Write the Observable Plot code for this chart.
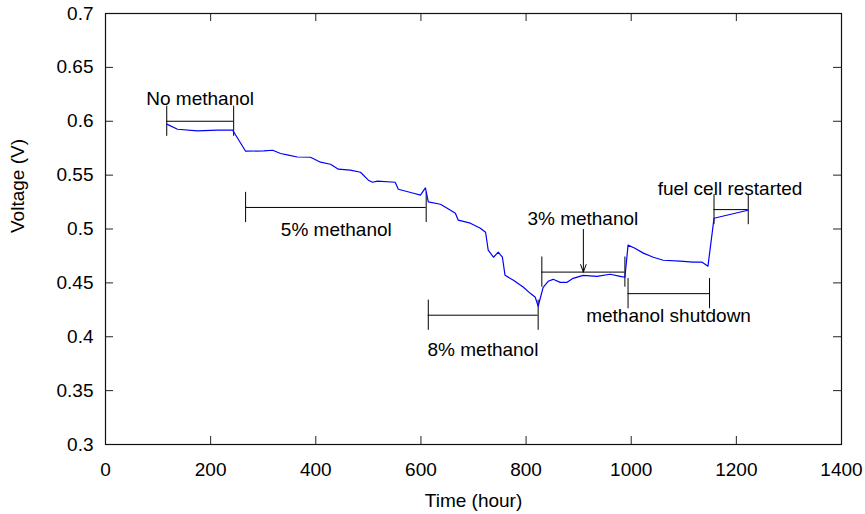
<!DOCTYPE html>
<html>
<head>
<meta charset="utf-8">
<script src="https://cdn.jsdelivr.net/npm/d3@7"></script>
<script src="https://cdn.jsdelivr.net/npm/@observablehq/plot@0.6"></script>
<style>
  html, body { margin: 0; padding: 0; background: #fff; }
  #chart { width: 865px; height: 514px; }
</style>
</head>
<body>
<div id="chart"></div>
<script>
// ---- data ----
const timeHours = [116.5,137,175,213,242,266.5,301,318,333,348,365,390,409,428,443,466,485,500,508,517,551,557,586,599,608.5,614,637,650,665.5,671,694,713,723,728,738,747,755,760,776,795,808,817.5,823,832.5,842,851.5,865,878,889.5,908.5,935,960,979,988,994,1007,1023,1042,1061,1093,1118,1135,1146,1157.5,1222];
const voltage = [0.5973,0.5926,0.591,0.5917,0.5917,0.5722,0.5725,0.5731,0.5701,0.5685,0.5668,0.5666,0.562,0.5601,0.5555,0.5546,0.5527,0.5453,0.5434,0.5444,0.5434,0.5369,0.5332,0.5314,0.5381,0.5252,0.523,0.5193,0.5147,0.5082,0.5054,0.5007,0.497,0.4803,0.4738,0.4785,0.4738,0.457,0.4524,0.4459,0.4403,0.4366,0.4283,0.4459,0.4515,0.4533,0.4505,0.4505,0.4542,0.457,0.4561,0.458,0.4561,0.4552,0.485,0.4822,0.4776,0.4738,0.471,0.4701,0.4692,0.4692,0.4655,0.51,0.5174];

const annoLabels   = ["No methanol", "5% methanol", "8% methanol", "3% methanol", "methanol shutdown", "fuel cell restarted"];
const bracketStart = [116.5, 266.5, 614, 830, 994, 1157.5];
const bracketEnd   = [243.8, 610, 823, 988, 1149, 1222.6];
const bracketV     = [0.6, 0.52, 0.42, 0.46, 0.44, 0.518];
const labelT       = [180, 439, 718, 908, 1071, 1188];
const labelV       = [0.6205, 0.4996, 0.3882, 0.5097, 0.419, 0.5376];

const arrowT = [909];
const arrowFromV = [0.4996];
const arrowToV = [0.46];

const xTicks = [0, 200, 400, 600, 800, 1000, 1200, 1400];
const yTicks = [0.3, 0.35, 0.4, 0.45, 0.5, 0.55, 0.6, 0.65, 0.7];
const xTitle = "Time (hour)";
const yTitle = "Voltage (V)";

// ---- build tables ----
const series = timeHours.map((t, i) => ({t, v: voltage[i]}));
const brackets = annoLabels.map((label, i) => ({
  label, t0: bracketStart[i], t1: bracketEnd[i], v: bracketV[i], lt: labelT[i], lv: labelV[i]
}));
const caps = brackets.flatMap(b => [{t: b.t0, v: b.v}, {t: b.t1, v: b.v}]);
const arrows = arrowT.map((t, i) => ({t, v1: arrowFromV[i], v2: arrowToV[i]}));

const W = 865, H = 514;
const mL = 105, mR = 24, mT = 13, mB = 70;
const plotW = W - mL - mR, plotH = H - mT - mB;
const tickLen = 8;
const capHalf = 0.014;
const font = "'Liberation Sans', Arial, Helvetica, sans-serif";

const chart = Plot.plot({
  width: W,
  height: H,
  marginLeft: mL, marginRight: mR, marginTop: mT, marginBottom: mB,
  style: {fontFamily: font, fontSize: "19px", background: "#fff", color: "#000", overflow: "visible"},
  x: {domain: [0, 1400]},
  y: {domain: [0.3, 0.7]},
  marks: [
    // axes (labels only) + inward mirrored ticks
    Plot.axisX({ticks: xTicks, tickSize: 0, tickPadding: 18, tickFormat: d => String(d), label: null, fontSize: 19}),
    Plot.axisY({ticks: yTicks, tickSize: 0, tickPadding: 12, tickFormat: d => String(d), label: null, fontSize: 19}),
    Plot.ruleX(xTicks, {x: d => d, insetTop: plotH - tickLen, stroke: "#222", strokeWidth: 1}),
    Plot.ruleX(xTicks, {x: d => d, insetBottom: plotH - tickLen, stroke: "#222", strokeWidth: 1}),
    Plot.ruleY(yTicks, {y: d => d, insetRight: plotW - tickLen, stroke: "#222", strokeWidth: 1}),
    Plot.ruleY(yTicks, {y: d => d, insetLeft: plotW - tickLen, stroke: "#222", strokeWidth: 1}),
    Plot.frame({stroke: "#111", strokeWidth: 1.2}),
    // axis titles
    Plot.text([xTitle], {frameAnchor: "bottom", dy: 56, text: d => d, fontSize: 19, lineAnchor: "middle"}),
    Plot.text([yTitle], {frameAnchor: "left", dx: -88, dy: 4, rotate: -90, text: d => d, fontSize: 19, lineAnchor: "middle"}),
    // annotation brackets
    Plot.ruleY(brackets, {y: "v", x1: "t0", x2: "t1", stroke: "#000", strokeWidth: 1}),
    Plot.ruleX(caps, {x: "t", y1: d => d.v - capHalf, y2: d => d.v + capHalf, stroke: "#000", strokeWidth: 1}),
    Plot.arrow(arrows, {x1: "t", x2: "t", y1: "v1", y2: "v2", stroke: "#000", strokeWidth: 1, headLength: 12, headAngle: 40}),
    Plot.text(brackets, {x: "lt", y: "lv", text: "label", fontSize: 19, textAnchor: "middle", lineAnchor: "middle", fill: "#000"}),
    // data line
    Plot.line(series, {x: "t", y: "v", stroke: "#0000ff", strokeWidth: 1.2})
  ]
});
document.getElementById("chart").appendChild(chart);
</script>
</body>
</html>
